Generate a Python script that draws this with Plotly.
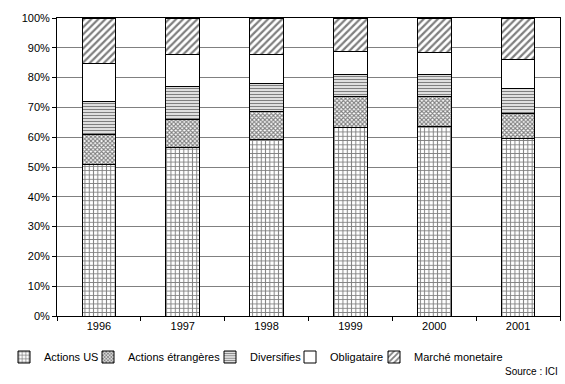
import plotly.graph_objects as go

years = ["1996", "1997", "1998", "1999", "2000", "2001"]
actions_us = [50.7, 56.5, 59.3, 63.2, 63.5, 59.6]
actions_etr = [10.3, 9.5, 9.3, 10.3, 10.1, 8.5]
diversifies = [11.0, 11.0, 9.3, 7.7, 7.3, 8.1]
obligataire = [12.8, 10.8, 9.9, 7.7, 7.5, 9.9]
monetaire = [15.2, 12.2, 12.2, 11.1, 11.6, 13.9]

names = ["Actions US", "Actions étrangères", "Diversifies", "Obligataire", "Marché monetaire"]
values = [actions_us, actions_etr, diversifies, obligataire, monetaire]
patterns = [
    dict(shape="+", size=4.3, solidity=0.4),
    dict(shape="x", size=3, solidity=0.6),
    dict(shape="-", size=3, solidity=0.5),
    dict(shape=""),
    dict(shape="/", size=5, solidity=0.45),
]
legend_text_x = [44, 128, 250, 330, 414]

font = "Liberation Sans, Arial, sans-serif"
W, H = 565, 384
fig = go.Figure()
legends = {}
for i, (name, vals, pat, tx) in enumerate(zip(names, values, patterns, legend_text_x)):
    p = dict(pat)
    p.update(fillmode="overlay", fgcolor="black", bgcolor="white")
    lg = "legend" if i == 0 else f"legend{i+1}"
    fig.add_trace(go.Bar(
        name=name, x=years, y=vals, legend=lg,
        marker=dict(color="white", line=dict(color="black", width=1), pattern=p),
        width=0.4,
    ))
    legends[lg] = dict(xref="container", yref="container", x=(tx - 40) / W,
                       xanchor="left", y=1 - 357 / H, yanchor="middle",
                       orientation="h", font=dict(size=11, color="black"),
                       bgcolor="rgba(0,0,0,0)")

fig.update_layout(
    barmode="stack",
    width=W, height=H,
    margin=dict(l=57, r=5, t=18, b=68, autoexpand=False),
    plot_bgcolor="white", paper_bgcolor="white",
    font=dict(family=font, size=11, color="black"),
    showlegend=True,
    annotations=[dict(text="Source : ICI", x=1, xref="paper", xanchor="right",
                      y=(316 - 371) / 298, yref="paper", yanchor="middle",
                      showarrow=False, font=dict(size=10))],
    **legends,
)
fig.update_xaxes(showline=True, linecolor="black", linewidth=1, mirror=True,
                 ticks="outside", tickson="boundaries", ticklen=4, tickcolor="black",
                 showgrid=False, automargin=False)
fig.update_yaxes(range=[0, 100], dtick=10, ticksuffix="%", showline=True,
                 linecolor="black", linewidth=1, mirror=True, ticks="outside",
                 ticklen=4, tickcolor="black", gridcolor="#808080", gridwidth=1,
                 zeroline=False, automargin=False)
fig.write_html("out.html", post_script="document.body.style.margin='0';",
               config={"displayModeBar": False})
